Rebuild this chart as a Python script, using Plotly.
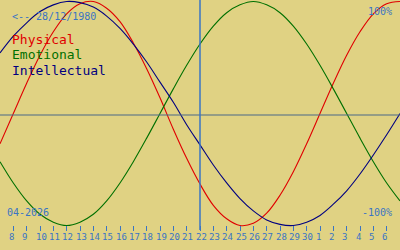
import plotly.graph_objects as go
import pandas as pd

# ---- data ----
dates = pd.date_range("2026-04-07", "2026-05-07", freq="D")  # 31 days shown
physical = [-0.27, 0.00, 0.27, 0.52, 0.73, 0.89, 0.98, 1.00, 0.94, 0.82, 0.63,
            0.40, 0.14, -0.14, -0.40, -0.63, -0.82, -0.94, -1.00, -0.98, -0.89,
            -0.73, -0.52, -0.27, 0.00, 0.27, 0.52, 0.73, 0.89, 0.98, 1.00]
emotional = [-0.43, -0.62, -0.78, -0.90, -0.97, -1.00, -0.97, -0.90, -0.78, -0.62,
             -0.43, -0.22, 0.00, 0.22, 0.43, 0.62, 0.78, 0.90, 0.97, 1.00, 0.97,
             0.90, 0.78, 0.62, 0.43, 0.22, 0.00, -0.22, -0.43, -0.62, -0.78]
intellectual = [0.54, 0.69, 0.81, 0.91, 0.97, 1.00, 0.99, 0.95, 0.87, 0.76, 0.62,
                0.46, 0.28, 0.10, -0.10, -0.28, -0.46, -0.62, -0.76, -0.87, -0.95,
                -0.99, -1.00, -0.97, -0.91, -0.81, -0.69, -0.54, -0.37, -0.19, 0.00]
tick_dates = pd.date_range("2026-04-08", "2026-05-06", freq="D")
tick_labels = [str(d.day) for d in tick_dates]
today = "2026-04-22"
birth_label = "<-- 28/12/1980"
month_label = "04-2026"
series_names = ["Physical", "Emotional", "Intellectual"]

# ---- style ----
BG = "#e0d283"
BLUE = "#3a74c4"
COLORS = ["#e00000", "#007000", "#000080"]
MONO = "DejaVu Sans Mono"

fig = go.Figure()
for name, vals, col in zip(series_names, [physical, emotional, intellectual], COLORS):
    fig.add_trace(go.Scatter(x=dates, y=vals, mode="lines", name=name,
                             line=dict(color=col, width=1.1, shape="spline", smoothing=1.0),
                             hoverinfo="skip"))

# zero line and today line
fig.add_shape(type="line", xref="paper", yref="paper", x0=0, x1=1, y0=0.54, y1=0.54,
              line=dict(color="#4a6888", width=1.2))
fig.add_shape(type="line", xref="x", yref="paper", x0=today, x1=today, y0=0.08, y1=1,
              line=dict(color=BLUE, width=1.5))

# tick labels
for d, lab in zip(tick_dates, tick_labels):
    fig.add_annotation(x=d, y=0.052, xref="x", yref="paper", text=lab, showarrow=False,
                       xanchor="left", yanchor="middle", xshift=-6.5,
                       font=dict(family=MONO, size=9, color=BLUE))

# texts
fig.add_annotation(x=0.025, y=1 - 16.5 / 250, xref="paper", yref="paper", text=birth_label,
                   showarrow=False, xanchor="left", yanchor="middle",
                   font=dict(family=MONO, size=10, color=BLUE))
for i, (name, col) in enumerate(zip(series_names, COLORS)):
    fig.add_annotation(x=0.025, y=1 - (39 + 15.5 * i) / 250, xref="paper", yref="paper",
                       text=name, showarrow=False, xanchor="left", yanchor="middle",
                       font=dict(family=MONO, size=13, color=col))
fig.add_annotation(x=0.985, y=1 - 11.5 / 250, xref="paper", yref="paper", text="100%",
                   showarrow=False, xanchor="right", yanchor="middle",
                   font=dict(family=MONO, size=10, color=BLUE))
fig.add_annotation(x=0.985, y=1 - 212 / 250, xref="paper", yref="paper", text="-100%",
                   showarrow=False, xanchor="right", yanchor="middle",
                   font=dict(family=MONO, size=10, color=BLUE))
fig.add_annotation(x=0.012, y=1 - 212 / 250, xref="paper", yref="paper", text=month_label,
                   showarrow=False, xanchor="left", yanchor="middle",
                   font=dict(family=MONO, size=10, color=BLUE))

fig.update_layout(
    width=400, height=250, margin=dict(l=0, r=0, t=0, b=0),
    paper_bgcolor=BG, plot_bgcolor=BG, showlegend=False,
    xaxis=dict(range=["2026-04-07", "2026-05-07"], anchor="free", position=0.1,
               showgrid=False, zeroline=False, showline=False,
               tickmode="array", tickvals=list(tick_dates), ticks="outside",
               ticklen=5, tickwidth=1.2, tickcolor=BLUE, showticklabels=False),
    yaxis=dict(range=[-1.2187, 1.0134], visible=False, showgrid=False, zeroline=False),
)
fig.write_html("out.html")
